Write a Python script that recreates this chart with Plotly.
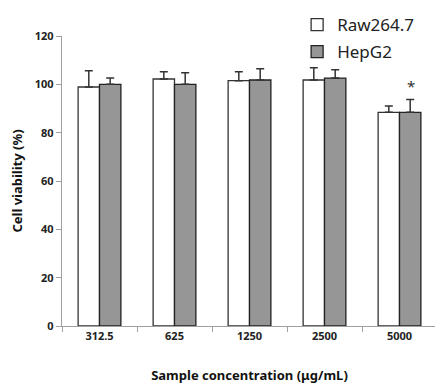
import plotly.graph_objects as go

categories = ["312.5", "625", "1250", "2500", "5000"]
raw_values = [98.9, 102.2, 101.5, 101.8, 88.4]
raw_err = [6.7, 3.0, 3.7, 5.1, 2.6]
hep_values = [100.0, 100.0, 101.8, 102.6, 88.4]
hep_err = [2.6, 4.8, 4.7, 3.4, 5.3]
y_ticks = [0, 20, 40, 60, 80, 100, 120]

FONT = "Noto Sans"

fig = go.Figure()
fig.add_trace(go.Bar(
    x=categories, y=raw_values, name="Raw264.7", legendgroup="a",
    marker=dict(color="white", line=dict(color="#333333", width=1.3)),
    error_y=dict(type="data", array=raw_err, arrayminus=[0]*5, symmetric=False,
                 color="#333333", thickness=1.5, width=4),
))
fig.add_trace(go.Bar(
    x=categories, y=hep_values, name="HepG2", legendgroup="b",
    marker=dict(color="#969696", line=dict(color="#222222", width=1.3)),
    error_y=dict(type="data", array=hep_err, arrayminus=[0]*5, symmetric=False,
                 color="#333333", thickness=1.5, width=4),
))

star_idx = categories.index("5000")
fig.add_annotation(x=star_idx, y=hep_values[star_idx] + hep_err[star_idx] + 0.8, text="*",
                   showarrow=False, xshift=11, yanchor="bottom",
                   font=dict(family=FONT, size=15, color="#333333"))

fig.update_layout(
    width=435, height=376,
    margin=dict(l=54, r=6, t=28, b=58, autoexpand=False),
    paper_bgcolor="white", plot_bgcolor="white",
    barmode="group", bargap=0.43, bargroupgap=0,
    font=dict(family=FONT, color="#222222"),
    legend=dict(x=0.627, y=1.1, xanchor="left", yanchor="top",
                font=dict(family=FONT, size=17, color="#222222"),
                tracegroupgap=2, bgcolor="rgba(0,0,0,0)", itemwidth=30),
    xaxis=dict(
        type="category", automargin=False,
        showline=True, linecolor="#a0a0a0", linewidth=1.3,
        ticks="outside", tickson="boundaries", ticklen=5, tickcolor="#a0a0a0",
        tickfont=dict(family=FONT, size=11, color="#222222", weight="bold"),
        title=dict(text="Sample concentration (μg/mL)", standoff=28,
                   font=dict(family=FONT, size=13, color="#111111", weight="bold")),
    ),
    yaxis=dict(
        range=[0, 120], tickvals=y_ticks, showgrid=False, zeroline=False,
        automargin=False,
        showline=True, linecolor="#a0a0a0", linewidth=1.3,
        ticks="outside", ticklen=5, tickcolor="#a0a0a0",
        tickfont=dict(family=FONT, size=11, color="#222222", weight="bold"),
        title=dict(text="Cell viability (%)", standoff=27,
                   font=dict(family=FONT, size=13, color="#111111", weight="bold")),
    ),
)

fig.write_html("out.html")
